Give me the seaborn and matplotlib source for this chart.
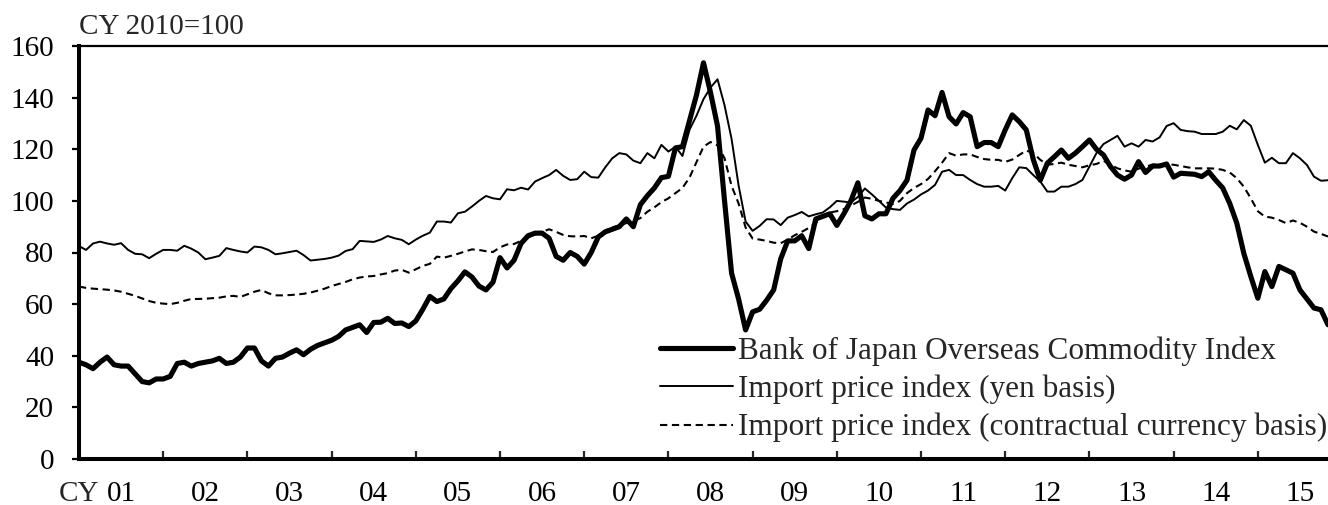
import numpy as np
import pandas as pd
import matplotlib
matplotlib.use("Agg")
import matplotlib.pyplot as plt
import seaborn as sns

# Monthly series, CY 2010 = 100, January 2001 through November 2015
commodity_index = [
    37.5, 36.5, 35.0, 37.5, 39.5, 36.5, 36.0, 36.0, 33.0, 30.0, 29.5, 31.0,
    31.0, 32.0, 37.0, 37.5, 36.0, 37.0, 37.5, 38.0, 39.0, 37.0, 37.5, 39.5,
    43.0, 43.0, 38.0, 36.0, 39.0, 39.5, 41.0, 42.3, 40.4, 42.5, 44.0, 45.0,
    46.0, 47.5, 50.0, 51.0, 52.0, 49.0, 52.9, 53.0, 54.5, 52.5, 52.7, 51.3,
    53.5, 58.0, 63.0, 61.0, 62.0, 66.0, 69.0, 72.5, 70.5, 67.0, 65.5, 68.5,
    78.0, 74.0, 77.0, 83.5, 86.5, 87.5, 87.5, 85.5, 78.5, 77.0, 80.0, 78.5,
    75.5, 80.0, 86.0, 88.0, 89.0, 90.0, 93.0, 90.0, 98.5, 102.0, 105.0, 109.0,
    109.5, 120.5, 121.0, 131.0, 141.0, 153.5, 142.0, 129.0, 100.0, 72.0, 62.0, 50.0,
    57.0, 58.0, 61.5, 65.5, 77.5, 84.5, 84.5, 86.5, 81.5, 93.0, 94.0, 95.0,
    90.5, 95.0, 100.0, 107.0, 94.2, 93.0, 95.0, 95.0, 101.0, 104.0, 108.0, 119.7,
    124.3, 135.2, 133.0, 142.0, 132.6, 129.8, 134.2, 132.6, 121.0, 122.6, 122.6, 121.0,
    127.5, 133.3, 130.7, 127.5, 116.0, 108.0, 114.6, 117.1, 119.7, 116.5, 118.5, 121.0,
    123.6, 120.0, 117.8, 113.3, 110.0, 108.4, 110.0, 115.2, 111.0, 113.5, 113.5, 114.3,
    109.2, 110.7, 110.5, 110.3, 109.4, 111.3, 108.0, 105.0, 99.0, 91.4, 79.7, 70.7,
    62.3, 72.6, 66.8, 74.6, 73.3, 72.0, 65.5, 62.0, 58.5, 57.8, 52.0,
]

import_yen = [
    82.5, 81.0, 83.5, 84.2, 83.5, 83.0, 83.6, 81.0, 79.5, 79.3, 77.8, 79.5,
    81.0, 81.0, 80.7, 82.6, 81.5, 80.0, 77.4, 78.0, 78.7, 81.7, 81.0, 80.4,
    80.0, 82.3, 82.0, 81.0, 79.3, 79.7, 80.2, 80.7, 79.0, 76.9, 77.2, 77.5,
    78.0, 78.8, 80.6, 81.3, 84.5, 84.3, 84.1, 85.0, 86.4, 85.5, 84.9, 83.2,
    85.0, 86.5, 87.7, 92.0, 92.0, 91.6, 95.2, 95.8, 97.8, 100.0, 101.9, 101.0,
    100.6, 104.5, 104.1, 105.1, 104.4, 107.5, 108.8, 110.0, 112.0, 109.7, 108.1, 108.4,
    111.3, 109.2, 109.0, 113.0, 116.5, 118.5, 118.0, 115.6, 114.6, 118.5, 116.5, 121.7,
    119.1, 121.0, 117.4, 127.5, 133.0, 139.4, 143.9, 147.1, 137.0, 124.0, 106.0, 92.0,
    88.4, 90.3, 92.9, 92.8, 90.6, 93.5, 94.5, 95.7, 94.0, 94.8, 95.5, 97.5,
    100.0, 99.7, 99.4, 101.5, 104.8, 102.5, 100.0, 97.4, 96.8, 96.5, 99.0, 100.5,
    102.5, 104.0, 106.2, 111.3, 112.0, 110.0, 110.0, 108.1, 106.5, 105.5, 105.5, 105.8,
    104.0, 108.8, 113.0, 112.7, 110.0, 107.5, 103.6, 103.6, 105.5, 105.5, 106.5, 108.1,
    113.3, 118.5, 122.0, 123.6, 125.2, 121.0, 122.3, 121.0, 123.6, 123.0, 124.6, 129.0,
    130.1, 127.5, 127.0, 126.8, 125.9, 125.9, 125.9, 126.8, 129.1, 127.7, 131.3, 129.1,
    121.7, 114.8, 116.7, 114.6, 114.6, 118.5, 116.5, 113.9, 109.4, 107.8, 108.0,
]

import_contract = [
    66.8, 66.3, 66.0, 65.8, 65.6, 65.3, 64.8, 64.0, 63.2, 62.2, 61.2, 60.5,
    60.2, 60.0, 60.5, 61.3, 62.0, 62.0, 62.1, 62.3, 62.5, 63.0, 63.2, 62.8,
    63.8, 64.8, 65.5, 64.2, 63.4, 63.4, 63.5, 63.7, 64.0, 64.5, 65.2, 66.0,
    67.0, 67.8, 68.6, 69.6, 70.3, 70.7, 70.9, 71.5, 72.0, 73.0, 73.3, 72.2,
    73.5, 74.8, 75.6, 78.4, 78.0, 78.7, 79.5, 80.4, 81.2, 81.0, 80.5, 80.2,
    82.0, 83.1, 83.3, 84.5, 85.8, 87.0, 88.0, 89.0, 88.0, 86.8, 86.3, 86.2,
    86.4, 85.5, 86.5, 88.5, 89.7, 90.5, 91.4, 92.2, 93.3, 95.8, 97.5, 99.5,
    101.0, 103.0, 105.0, 109.0, 115.0, 121.0, 122.8, 121.5, 116.5, 105.8, 99.0, 89.7,
    85.4, 85.0, 84.5, 83.8, 83.6, 85.0, 86.7, 88.0, 89.5, 91.5, 93.8, 95.5,
    96.0, 96.8, 98.2, 99.6, 101.3, 100.8, 100.0, 99.4, 98.8, 100.0, 103.0, 105.0,
    106.5, 108.5, 111.5, 114.8, 118.5, 117.5, 118.0, 118.0, 117.0, 116.2, 115.9, 115.9,
    115.1, 116.0, 117.8, 119.5, 118.5, 115.9, 114.0, 114.3, 114.8, 114.0, 113.5, 113.0,
    113.8, 114.3, 115.5, 114.0, 112.6, 111.8, 111.3, 112.5, 113.3, 114.0, 114.3, 114.1,
    114.0, 113.5, 113.0, 112.6, 112.6, 112.6, 112.5, 112.0, 111.0, 108.8, 105.5, 101.0,
    96.0, 93.9, 93.5, 92.6, 91.4, 92.4, 91.5, 90.0, 88.1, 87.2, 86.2,
]

series_labels = [
    "Bank of Japan Overseas Commodity Index",
    "Import price index (yen basis)",
    "Import price index (contractual currency basis)",
]
year_labels = ["01", "02", "03", "04", "05", "06", "07", "08",
               "09", "10", "11", "12", "13", "14", "15"]
y_ticks = [0, 20, 40, 60, 80, 100, 120, 140, 160]

# Month position counted from January 2001
dates = pd.date_range("2001-01-01", periods=len(commodity_index), freq="MS")
month_pos = (dates.year - 2001) * 12 + (dates.month - 1)
df = pd.DataFrame({
    "month": month_pos,
    "commodity": commodity_index,
    "yen": import_yen,
    "contract": import_contract,
})

sns.set_style("ticks")
plt.rcParams["font.family"] = ["Liberation Serif", "DejaVu Serif"]
plt.rcParams["font.size"] = 21

fig = plt.figure(figsize=(13.28, 5.05), dpi=100)
ax = fig.add_axes([79 / 1328, 46 / 505, 1249 / 1328, 413 / 505])

sns.lineplot(data=df, x="month", y="commodity", ax=ax, color="black",
             linewidth=3.7, label=series_labels[0])
sns.lineplot(data=df, x="month", y="yen", ax=ax, color="black",
             linewidth=1.4, label=series_labels[1])
sns.lineplot(data=df, x="month", y="contract", ax=ax, color="black",
             linewidth=1.5, linestyle=(0, (3.5, 2.2)), label=series_labels[2])

ax.set_xlim(0, month_pos[-1])
ax.set_ylim(0, 160)
ax.set_xlabel("")
ax.set_ylabel("")

# y axis
ax.set_yticks(y_ticks)
ax.set_yticklabels([str(v) for v in y_ticks])
ax.tick_params(axis="y", direction="out", length=5, width=1.6, pad=13,
               labelsize=21, colors="black")

# x axis: year boundaries as inner ticks, year labels centred in each year
n_years = len(year_labels)
ax.set_xticks([12 * k for k in range(1, n_years)])
ax.set_xticklabels([])
ax.set_xticks([12 * k + 6 for k in range(n_years)], minor=True)
ax.set_xticklabels(year_labels, minor=True)
ax.tick_params(axis="x", which="major", direction="in", length=6, width=1.6)
ax.tick_params(axis="x", which="minor", length=0, pad=15.5, labelsize=21,
               colors="black")
ax.annotate("CY", xy=(6, 0), xycoords=("data", "axes fraction"),
            xytext=(-15.5, -15.5), textcoords="offset points",
            ha="right", va="top", fontsize=21)

for side in ["left", "bottom"]:
    ax.spines[side].set_linewidth(2.9)
    ax.spines[side].set_color("black")
ax.spines["top"].set_visible(True)
ax.spines["top"].set_linewidth(1.6)
ax.spines["top"].set_color("black")
ax.spines["right"].set_visible(False)

ax.annotate("CY 2010=100", xy=(0, 1), xycoords="axes fraction",
            xytext=(0, 4), textcoords="offset points",
            ha="left", va="bottom", fontsize=21)

ax.legend(loc="center left", bbox_to_anchor=(660 / 1328, 1 - 389.5 / 505),
          bbox_transform=fig.transFigure, frameon=False, borderpad=0,
          borderaxespad=0, handlelength=2.35, handletextpad=0.15,
          labelspacing=0.28, fontsize=22.5)

fig.savefig("out.png", dpi=100)
